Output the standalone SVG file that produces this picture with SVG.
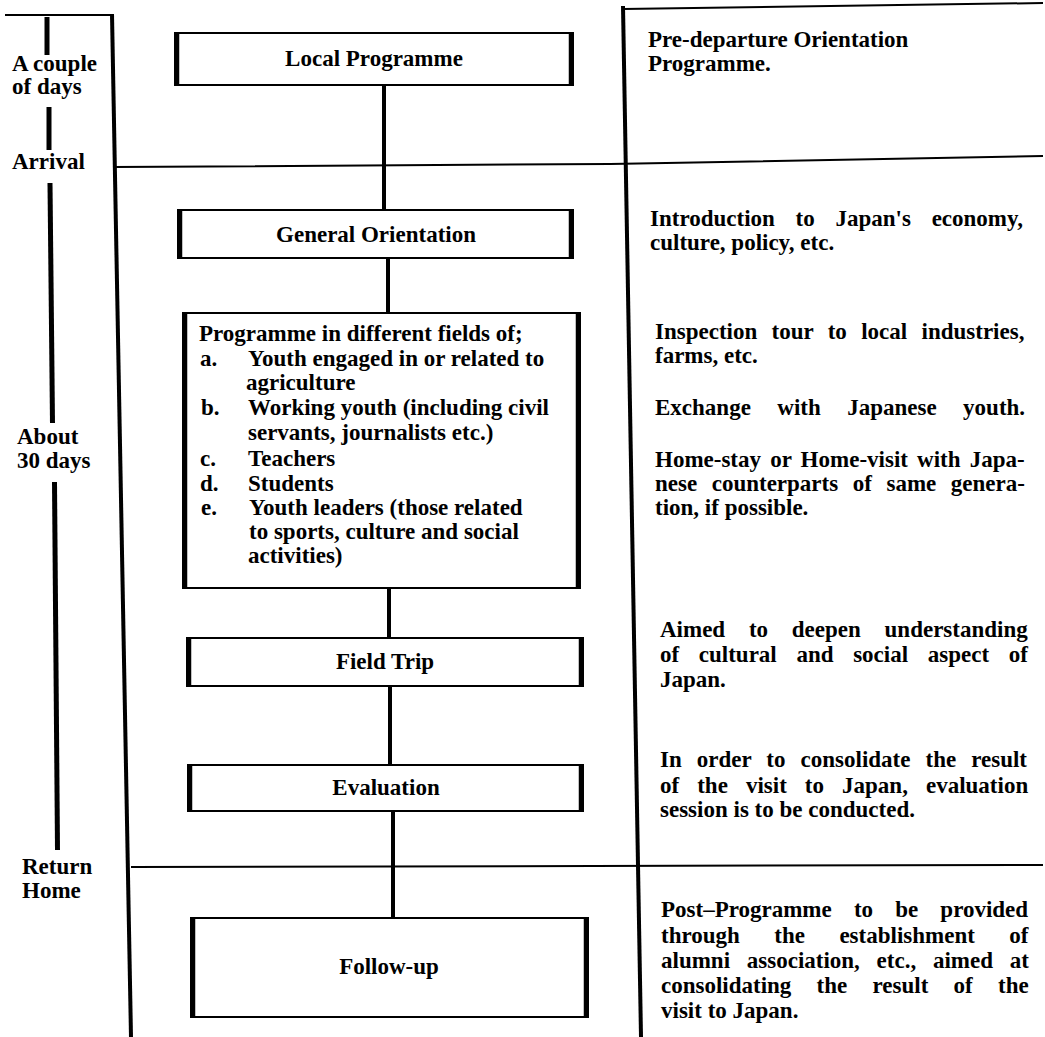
<svg xmlns="http://www.w3.org/2000/svg" width="1045" height="1037" viewBox="0 0 1045 1037">
<style>
text{font-family:"Liberation Serif","Times New Roman",serif;font-weight:bold;font-size:23px;fill:#000}
.c{text-anchor:middle}
.frame{stroke:#000;stroke-width:4;fill:none}
.div{stroke:#000;stroke-width:2;fill:none}
.bar{stroke:#000;stroke-width:5;fill:none}
.box{fill:#fff;stroke:#000;stroke-width:2}
.side{stroke:#000;stroke-width:4.5}
.conn{stroke:#000;stroke-width:4;fill:none}
</style>
<rect width="1045" height="1037" fill="#fff"/>
<g id="frame">
<line class="div" x1="5" y1="15" x2="113" y2="15"/>
<line class="frame" x1="112" y1="14" x2="131" y2="1037"/>
<line class="frame" x1="623" y1="6" x2="641" y2="1037"/>
<line class="div" x1="623" y1="9" x2="1043" y2="3"/>
<polyline class="div" points="113,167 610,164 1043,156"/>
<line class="div" x1="131" y1="867" x2="1043" y2="865"/>
</g>
<g id="timeline">
<line class="bar" x1="47" y1="17" x2="47" y2="55"/>
<line class="bar" x1="49" y1="107" x2="49" y2="150"/>
<line class="bar" x1="50" y1="183" x2="52.5" y2="423"/>
<line class="bar" x1="54.5" y1="482" x2="57.5" y2="850"/>
<text x="12" y="71">A couple</text>
<text x="12" y="94">of  days</text>
<text x="12" y="169">Arrival</text>
<text x="17" y="444">About</text>
<text x="17" y="468">30 days</text>
<text x="22" y="874">Return</text>
<text x="22" y="898">Home</text>
</g>
<g id="connectors">
<line class="conn" x1="384" y1="85" x2="384" y2="210"/>
<line class="conn" x1="388" y1="258" x2="388" y2="313"/>
<line class="conn" x1="389" y1="588" x2="389" y2="638"/>
<line class="conn" x1="390" y1="686" x2="390" y2="765"/>
<line class="conn" x1="393" y1="811" x2="393" y2="918"/>
</g>
<g id="local-programme">
<rect class="box" x="175" y="33" width="398" height="52"/>
<line class="side" x1="177" y1="33" x2="177" y2="85"/><line class="side" x1="571" y1="33" x2="571" y2="85"/>
<text class="c" x="374" y="66">Local Programme</text>
</g>
<g id="general-orientation">
<rect class="box" x="178" y="210" width="395" height="48"/>
<line class="side" x1="180" y1="210" x2="180" y2="258"/><line class="side" x1="571" y1="210" x2="571" y2="258"/>
<text class="c" x="376" y="242">General Orientation</text>
</g>
<g id="programme-fields">
<rect class="box" x="183" y="313" width="397" height="275"/>
<line class="side" x1="185" y1="313" x2="185" y2="588"/><line class="side" x1="578" y1="313" x2="578" y2="588"/>
<text x="199" y="341">Programme in different fields of;</text>
<text x="200" y="366">a.</text><text x="248" y="366">Youth engaged in or related to</text>
<text x="246" y="390">agriculture</text>
<text x="201" y="415">b.</text><text x="248" y="415">Working youth (including civil</text>
<text x="248" y="440">servants, journalists etc.)</text>
<text x="200" y="466">c.</text><text x="248" y="466">Teachers</text>
<text x="200" y="491">d.</text><text x="248" y="491">Students</text>
<text x="201" y="515">e.</text><text x="249" y="515">Youth leaders (those related</text>
<text x="249" y="539">to sports, culture and social</text>
<text x="248" y="563">activities)</text>
</g>
<g id="field-trip">
<rect class="box" x="187" y="638" width="396" height="48"/>
<line class="side" x1="189" y1="638" x2="189" y2="686"/><line class="side" x1="581" y1="638" x2="581" y2="686"/>
<text class="c" x="385" y="669">Field Trip</text>
</g>
<g id="evaluation">
<rect class="box" x="188" y="765" width="395" height="46"/>
<line class="side" x1="190" y1="765" x2="190" y2="811"/><line class="side" x1="581" y1="765" x2="581" y2="811"/>
<text class="c" x="386" y="795">Evaluation</text>
</g>
<g id="follow-up">
<rect class="box" x="191" y="918" width="397" height="99"/>
<line class="side" x1="193" y1="918" x2="193" y2="1017"/><line class="side" x1="586" y1="918" x2="586" y2="1017"/>
<text class="c" x="389" y="974">Follow-up</text>
</g>
<g id="descriptions">
<text x="648" y="47">Pre-departure Orientation</text>
<text x="648" y="71">Programme.</text>
<text x="650" y="226" word-spacing="15">Introduction to Japan's economy,</text>
<text x="650" y="250">culture, policy, etc.</text>
<text x="655" y="339" word-spacing="8.6">Inspection tour to local industries,</text>
<text x="655" y="363">farms, etc.</text>
<text x="655" y="415" word-spacing="20.7">Exchange with Japanese youth.</text>
<text x="655" y="467" word-spacing="3.4">Home-stay or Home-visit with Japa-</text>
<text x="655" y="491" word-spacing="8.8">nese counterparts of same genera-</text>
<text x="655" y="515">tion, if possible.</text>
<text x="660" y="637" word-spacing="18">Aimed to deepen understanding</text>
<text x="660" y="662" word-spacing="13.9">of cultural and social aspect of</text>
<text x="660" y="687">Japan.</text>
<text x="660" y="767" word-spacing="9.3">In order to consolidate the result</text>
<text x="660" y="793" word-spacing="12.3">of the visit to Japan, evaluation</text>
<text x="660" y="817">session is to be conducted.</text>
<text x="661" y="917" word-spacing="16.4">Post–Programme to be provided</text>
<text x="661" y="943" word-spacing="28.7">through the establishment of</text>
<text x="661" y="968" word-spacing="11">alumni association, etc., aimed at</text>
<text x="661" y="993" word-spacing="19.5">consolidating the result of the</text>
<text x="661" y="1018">visit to Japan.</text>
</g>
</svg>
